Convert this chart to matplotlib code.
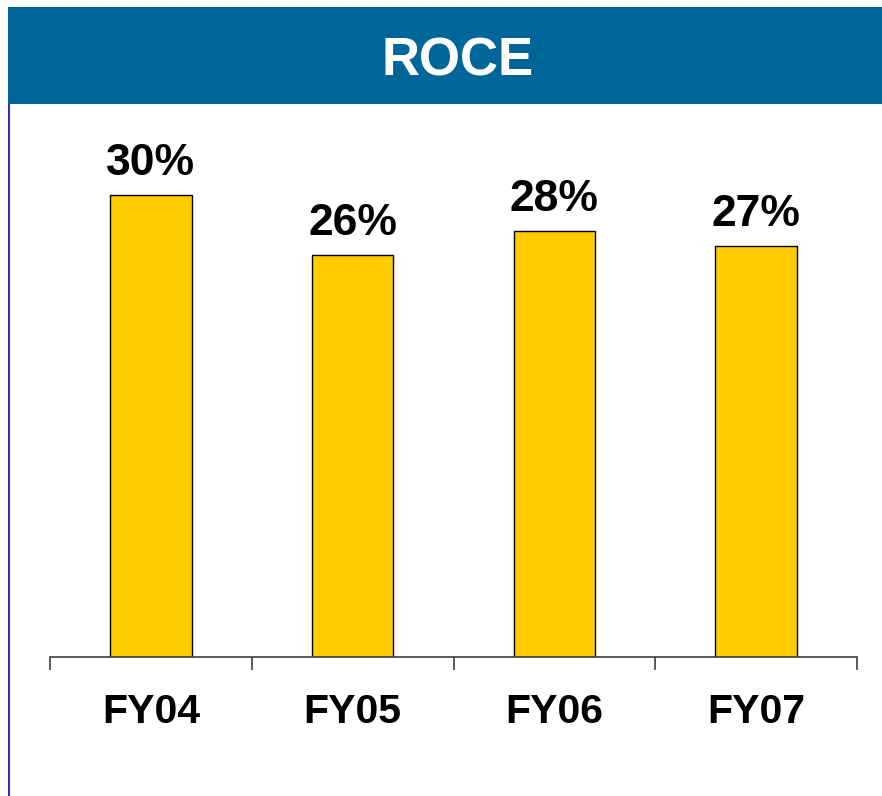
import matplotlib.pyplot as plt
from matplotlib.patches import Rectangle
from matplotlib.lines import Line2D

plt.rcParams['font.family'] = ['Liberation Sans', 'DejaVu Sans']

# data
categories = ['FY04', 'FY05', 'FY06', 'FY07']
roce = [30.0, 26.1, 27.65, 26.7]
labels = ['30%', '26%', '28%', '27%']

fig = plt.figure(figsize=(8.82, 7.96), dpi=100)
W, H = 882, 796

# title banner
fig.patches.append(Rectangle((8 / W, 1 - 103.5 / H), 1 - 8 / W, 97 / H,
                             transform=fig.transFigure, facecolor='#006699',
                             edgecolor='none', zorder=0))
fig.lines.append(Line2D([8.5 / W, 8.5 / W], [0, 1 - 103.5 / H],
                        transform=fig.transFigure, color='#3333aa', lw=1.5))
fig.text(458 / W, 1 - 61 / H, 'ROCE', color='white', fontsize=38,
         fontweight='bold', ha='center', va='center')

ax = fig.add_axes([50 / W, 1 - 657 / H, 807 / W, 554 / H])
x = range(len(categories))
bars = ax.bar(x, roce, width=0.405, color='#ffcc00', edgecolor='black', linewidth=1)
for b, lab in zip(bars, labels):
    ax.annotate(lab, (b.get_x() + b.get_width() / 2, b.get_height()),
                xytext=(0, 8), textcoords='offset points', ha='center', va='bottom',
                fontsize=32, fontweight='bold')

ax.set_xlim(-0.5, len(categories) - 0.5)
ax.set_ylim(0, 36)
ax.set_yticks([])
for s in ['top', 'right', 'left']:
    ax.spines[s].set_visible(False)
ax.spines['bottom'].set_color('#404040')
ax.spines['bottom'].set_linewidth(1.2)

# category boundaries as ticks, labels centred under bars
ax.set_xticks([i - 0.5 for i in range(len(categories) + 1)])
ax.set_xticklabels([])
ax.tick_params(axis='x', direction='out', length=9, width=1.2, color='#404040')
for i, c in enumerate(categories):
    ax.text(i, -3.55, c, ha='center', va='center', fontsize=29.5, fontweight='bold')

fig.savefig('out.png', dpi=100)
